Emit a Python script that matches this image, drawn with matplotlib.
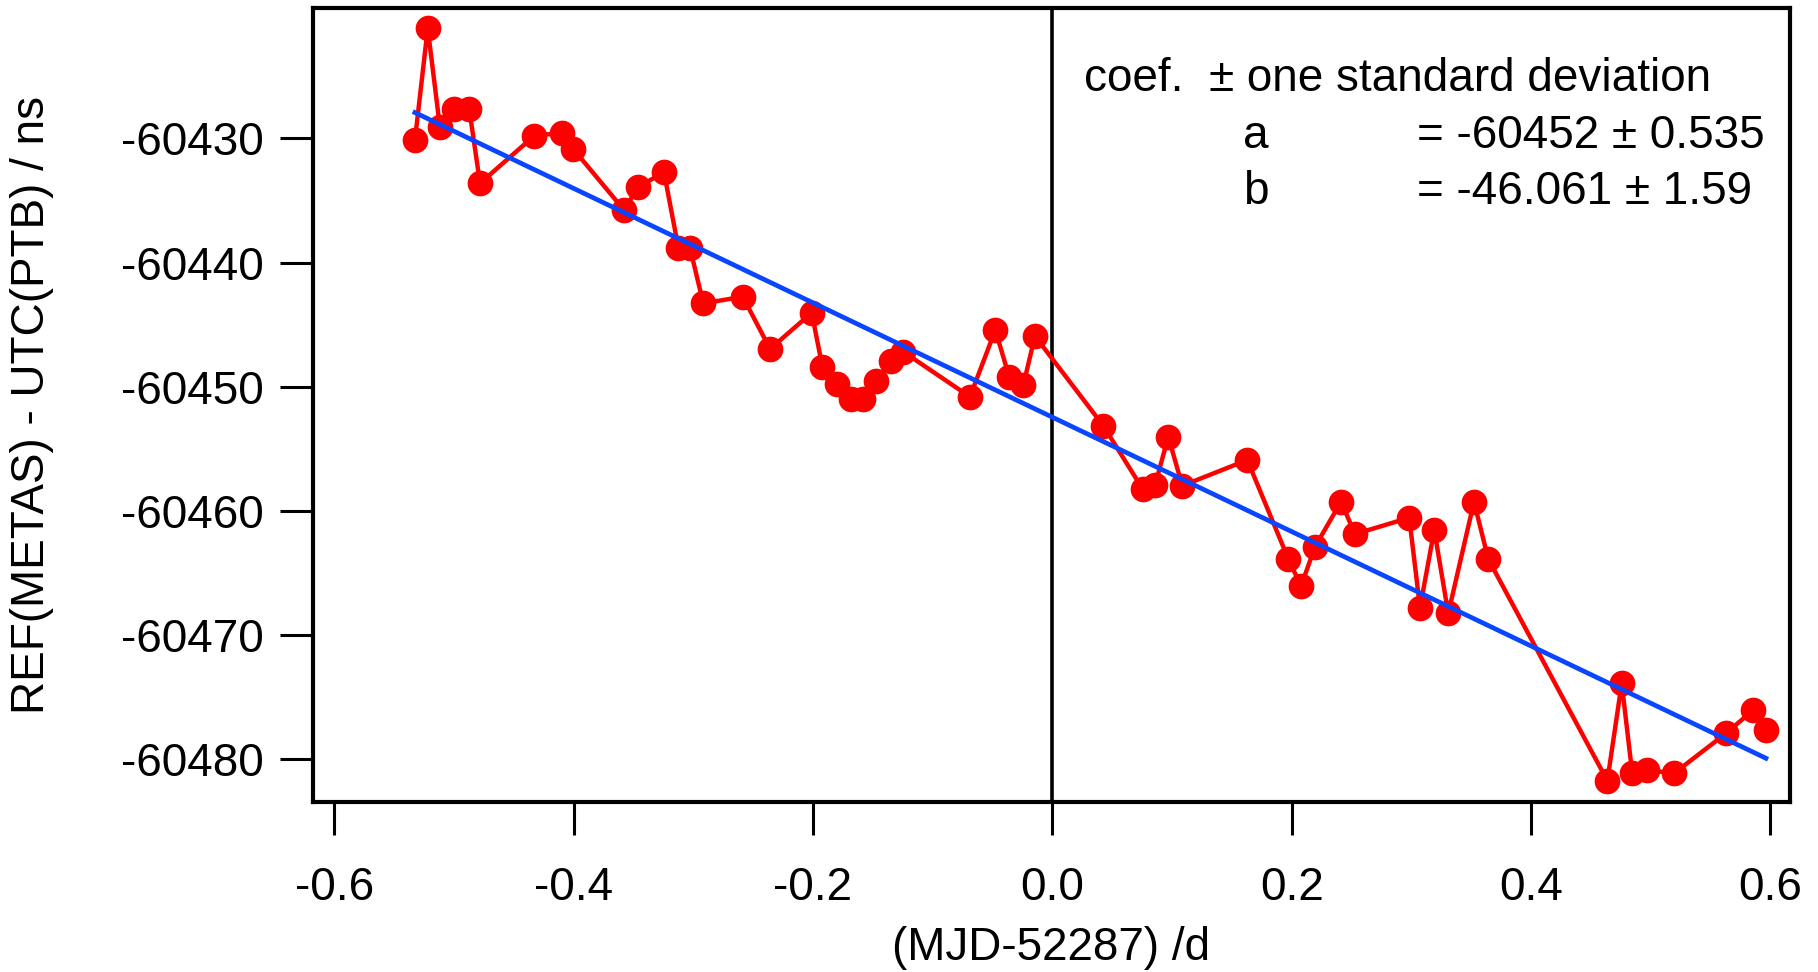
import numpy as np
import matplotlib
matplotlib.use("Agg")
import matplotlib.pyplot as plt

plt.rcParams['font.family'] = ['Liberation Sans', 'DejaVu Sans']
plt.rcParams['axes.unicode_minus'] = False

# ---- data ----
mjd_offset = [-0.5325, -0.5218, -0.5116, -0.4996, -0.4871, -0.4781, -0.4330, -0.4099, -0.4002, -0.3578,
              -0.3459, -0.3244, -0.3124, -0.3027, -0.2916, -0.2586, -0.2358, -0.2010, -0.1921, -0.1801,
              -0.1684, -0.1579, -0.1473, -0.1350, -0.1245, -0.0688, -0.0476, -0.0359, -0.0242, -0.0145,
              0.0426, 0.0755, 0.0858, 0.0969, 0.1086, 0.1629, 0.1972, 0.2078, 0.2195, 0.2412,
              0.2529, 0.2982, 0.3072, 0.3191, 0.3308, 0.3523, 0.3642, 0.4637, 0.4757, 0.4845,
              0.4971, 0.5194, 0.5628, 0.5856, 0.5962]
ref_minus_utc = [-60430.14, -60421.14, -60429.11, -60427.67, -60427.67, -60433.62, -60429.81, -60429.55, -60430.86, -60435.77,
                 -60433.90, -60432.74, -60438.81, -60438.81, -60443.29, -60442.75, -60446.96, -60444.04, -60448.39, -60449.78,
                 -60450.99, -60450.99, -60449.52, -60447.93, -60447.18, -60450.81, -60445.43, -60449.24, -60449.86, -60445.92,
                 -60453.14, -60458.24, -60457.92, -60454.03, -60457.97, -60455.90, -60463.87, -60466.05, -60462.88, -60459.26,
                 -60461.86, -60460.55, -60467.79, -60461.54, -60468.25, -60459.26, -60463.87, -60481.72, -60473.88, -60481.13,
                 -60480.86, -60481.13, -60477.91, -60476.03, -60477.64]

fit_intercept = -60452.45
fit_slope = -46.061

x_ticks = [-0.6, -0.4, -0.2, 0.0, 0.2, 0.4, 0.6]
x_tick_labels = ["-0.6", "-0.4", "-0.2", "0.0", "0.2", "0.4", "0.6"]
y_ticks = [-60480, -60470, -60460, -60450, -60440, -60430]
y_tick_labels = ["-60480", "-60470", "-60460", "-60450", "-60440", "-60430"]

coef_header = "coef.  \u00b1 one standard deviation"
coef_names = ["a", "b"]
coef_values = ["= -60452 \u00b1 0.535", "= -46.061 \u00b1 1.59"]

# ---- figure ----
W, H = 1818, 972
fig = plt.figure(figsize=(W / 100, H / 100), dpi=100)
L, R, T, B = 312.7, 1790, 8.3, 801.7
ax = fig.add_axes([L / W, 1 - B / H, (R - L) / W, (B - T) / H])

ax.axvline(0.0, color='black', lw=2.6, zorder=1)
ax.plot(mjd_offset, ref_minus_utc, color='#ff0000', lw=3.2, marker='o',
        markersize=18.5, markeredgewidth=0, markerfacecolor='#ff0000', zorder=3)
fx = np.array([mjd_offset[0], mjd_offset[-1]])
ax.plot(fx, fit_intercept + fit_slope * fx, color='#0a46ff', lw=3.4, zorder=4)

ax.set_xlim(-0.6179, 0.6163)
ax.set_ylim(-60483.41, -60419.53)

ax.set_xticks(x_ticks)
ax.set_xticklabels(x_tick_labels)
ax.set_yticks(y_ticks)
ax.set_yticklabels(y_tick_labels)

for s in ax.spines.values():
    s.set_linewidth(3.0)
ax.tick_params(axis='both', direction='out', length=24, width=2.2, labelsize=33)
ax.tick_params(axis='y', pad=11)
ax.tick_params(axis='x', pad=22)

fig.text(32 / W, 0.5 * (1 - B / H) + 0.5 * (1 - T / H), "REF(METAS) - UTC(PTB) / ns",
         rotation=90, ha='center', va='center', fontsize=33)
fig.text(0.5 * (L + R) / W, 1 - 948 / H, "(MJD-52287) /d", ha='center', va='center', fontsize=33)

fig.text(1084 / W, 1 - 79 / H, coef_header, ha='left', va='center', fontsize=33)
for i, (n, v) in enumerate(zip(coef_names, coef_values)):
    yy = 1 - (136 + 56 * i) / H
    fig.text(1243 / W, yy, n, ha='left', va='center', fontsize=33)
    fig.text(1417 / W, yy, v, ha='left', va='center', fontsize=33)

fig.savefig("out.png", dpi=100)
